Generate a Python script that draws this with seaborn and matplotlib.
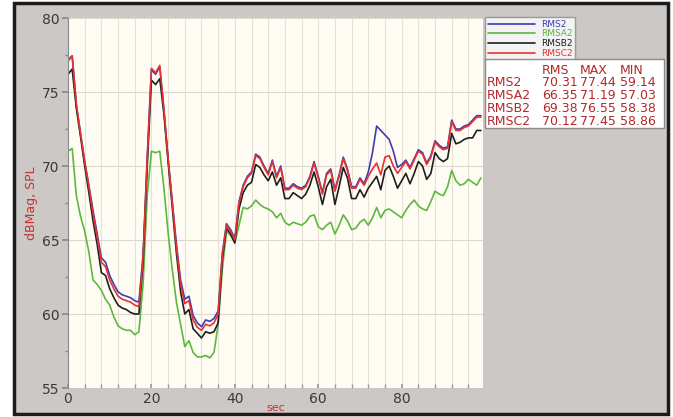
import numpy as np
import pandas as pd
import matplotlib
matplotlib.use("Agg")
import matplotlib.pyplot as plt
from matplotlib.patches import Rectangle
from matplotlib.ticker import MultipleLocator
import seaborn as sns

# time axis (sec) and the four SPL traces
seconds = list(range(100))

rmsc2 = [77.2, 77.45, 74.2, 72.2, 70.3, 68.6, 66.8, 65.2, 63.5, 63.2,
         62.3, 61.7, 61.2, 61.0, 60.9, 60.8, 60.6, 60.5, 63.8, 70.5,
         76.6, 76.3, 76.8, 73.8, 70.5, 67.5, 64.5, 62.0, 60.7, 60.9,
         59.6, 59.1, 58.9, 59.3, 59.2, 59.4, 60.0, 64.0, 66.0, 65.6,
         65.0, 67.5, 68.6, 69.2, 69.5, 70.7, 70.5, 69.9, 69.4, 70.3,
         69.2, 69.9, 68.4, 68.4, 68.7, 68.5, 68.4, 68.6, 69.2, 70.2,
         69.2, 68.1, 69.4, 69.7, 68.3, 69.3, 70.5, 69.7, 68.5, 68.5,
         69.1, 68.7, 69.3, 69.8, 70.2, 69.4, 70.6, 70.7, 70.0, 69.5,
         69.9, 70.3, 69.8, 70.4, 71.0, 70.8, 70.1, 70.6, 71.6, 71.3,
         71.1, 71.2, 73.0, 72.4, 72.4, 72.6, 72.7, 73.0, 73.3, 73.3]

rmsb2 = [76.2, 76.55, 73.9, 72.0, 70.0, 68.2, 66.3, 64.7, 62.8, 62.6,
         61.7, 61.1, 60.6, 60.4, 60.3, 60.1, 60.0, 60.0, 63.5, 70.0,
         75.8, 75.5, 75.9, 73.5, 70.3, 67.2, 64.1, 61.5, 60.0, 60.3,
         59.0, 58.7, 58.38, 58.8, 58.7, 58.8, 59.4, 63.7, 65.8, 65.4,
         64.8, 67.1, 68.2, 68.7, 68.9, 70.1, 69.9, 69.4, 69.0, 69.6,
         68.7, 69.2, 67.8, 67.8, 68.2, 68.0, 67.8, 68.1, 68.7, 69.6,
         68.6, 67.4, 68.6, 69.1, 67.4, 68.6, 69.9, 69.2, 67.8, 67.8,
         68.4, 67.9, 68.5, 68.9, 69.3, 68.4, 69.7, 70.0, 69.3, 68.5,
         69.0, 69.5, 68.8, 69.5, 70.3, 70.0, 69.1, 69.5, 70.9, 70.5,
         70.3, 70.5, 72.2, 71.5, 71.6, 71.8, 71.9, 71.9, 72.4, 72.4]

rms2 = [77.1, 77.44, 74.1, 72.2, 70.3, 68.7, 67.0, 65.4, 63.8, 63.5,
        62.6, 62.0, 61.5, 61.3, 61.2, 61.1, 60.9, 60.8, 64.0, 70.6,
        76.5, 76.2, 76.7, 73.8, 70.5, 67.6, 64.7, 62.3, 61.0, 61.2,
        59.9, 59.4, 59.14, 59.6, 59.5, 59.7, 60.2, 64.1, 66.1, 65.7,
        65.1, 67.6, 68.7, 69.3, 69.6, 70.8, 70.6, 70.0, 69.5, 70.4,
        69.3, 70.0, 68.5, 68.5, 68.8, 68.6, 68.5, 68.7, 69.3, 70.3,
        69.3, 68.2, 69.5, 69.8, 68.4, 69.4, 70.6, 69.8, 68.6, 68.6,
        69.2, 68.8, 69.6, 70.9, 72.7, 72.4, 72.1, 71.8, 71.0, 69.9,
        70.1, 70.4, 69.9, 70.5, 71.1, 70.9, 70.2, 70.7, 71.7, 71.4,
        71.2, 71.3, 73.1, 72.5, 72.5, 72.7, 72.8, 73.1, 73.4, 73.4]

rmsa2 = [71.0, 71.19, 68.0, 66.6, 65.6, 64.2, 62.3, 62.0, 61.6, 61.0,
         60.6, 59.8, 59.2, 59.0, 58.9, 58.9, 58.6, 58.8, 62.0, 68.0,
         71.0, 70.9, 71.0, 68.5, 65.5, 63.0, 60.8, 59.3, 57.8, 58.2,
         57.4, 57.1, 57.1, 57.2, 57.03, 57.4, 59.3, 63.0, 65.6, 65.3,
         64.8, 66.0, 67.2, 67.1, 67.3, 67.7, 67.4, 67.2, 67.1, 66.9,
         66.5, 66.8, 66.2, 66.0, 66.2, 66.1, 66.0, 66.2, 66.6, 66.7,
         65.9, 65.7, 66.0, 66.2, 65.4, 66.0, 66.7, 66.3, 65.7, 65.8,
         66.2, 66.4, 66.0, 66.5, 67.2, 66.5, 67.0, 67.1, 66.9, 66.7,
         66.5, 67.0, 67.4, 67.7, 67.3, 67.1, 67.0, 67.6, 68.3, 68.1,
         68.0, 68.6, 69.7, 69.0, 68.7, 68.8, 69.1, 68.9, 68.7, 69.2]

series_names = ["RMS2", "RMSA2", "RMSB2", "RMSC2"]
stats_rms = ["70.31", "66.35", "69.38", "70.12"]
stats_max = ["77.44", "71.19", "76.55", "77.45"]
stats_min = ["59.14", "57.03", "58.38", "58.86"]

colors = {"RMS2": "#3c3cb4", "RMSA2": "#5cb83e", "RMSB2": "#1e1e1e", "RMSC2": "#e63232"}
stat_color = "#b42828"

df = pd.DataFrame({
    "sec": seconds * 4,
    "value": rms2 + rmsa2 + rmsb2 + rmsc2,
    "series": np.repeat(series_names, len(seconds)),
})

sns.set_theme(style="white")
plt.rcParams["font.family"] = ["DejaVu Sans"]

fig = plt.figure(figsize=(6.73, 4.17), dpi=100, facecolor="white")

# grey panel with a dark frame, as in the screenshot
fig.patches.append(Rectangle((14 / 673, 3 / 417), 654 / 673, 411 / 417,
                             transform=fig.transFigure, facecolor="#cbc8c5",
                             edgecolor="#1c1c1c", linewidth=2.5, zorder=-10))

ax = fig.add_axes([68 / 673, 1 - 388 / 417, 415 / 673, 370 / 417])
ax.set_facecolor("#fffdf3")

sns.lineplot(data=df, x="sec", y="value", hue="series", hue_order=series_names,
             palette=colors, linewidth=1.2, ax=ax, legend=True)

ax.set_xlim(0, 99.5)
ax.set_ylim(55, 80)
ax.xaxis.set_major_locator(MultipleLocator(20))
ax.xaxis.set_minor_locator(MultipleLocator(4))
ax.yaxis.set_major_locator(MultipleLocator(5))
ax.yaxis.set_minor_locator(MultipleLocator(2.5))
ax.set_xticks([0, 20, 40, 60, 80])

ax.grid(which="minor", axis="x", color="#e6e1d3", linewidth=0.8)
ax.grid(which="major", axis="x", color="#e6e1d3", linewidth=0.8)
ax.grid(which="major", axis="y", color="#dcd8cc", linewidth=0.8)
ax.set_axisbelow(True)

for side in ["top", "right", "bottom"]:
    ax.spines[side].set_visible(False)
ax.spines["left"].set_color("#8a8a8a")
ax.spines["left"].set_linewidth(0.8)

ax.tick_params(axis="y", which="major", length=4, color="#8a8a8a",
               labelsize=10, labelcolor="#3a3a3a", pad=2, left=True)
ax.tick_params(axis="y", which="minor", length=2, color="#8a8a8a", left=True)
ax.tick_params(axis="x", which="both", length=3, direction="in", color="#9a9a9a",
               labelsize=10, labelcolor="#3a3a3a", pad=3, bottom=True)

ax.set_xlabel("sec", color="#c83232", fontsize=8, labelpad=-2)
ax.set_ylabel("dBMag, SPL", color="#c83232", fontsize=9, labelpad=3)

# legend box to the right of the plot
leg = ax.legend(loc="upper left", bbox_to_anchor=(485 / 673, 1 - 17 / 417),
                bbox_transform=fig.transFigure, fontsize=6.5, frameon=True,
                fancybox=False, handlelength=5.2, handletextpad=0.7,
                labelspacing=0.08, borderpad=0.3, borderaxespad=0,
                labelcolor="linecolor", title=None)
leg.get_frame().set_edgecolor("#8a8a8a")
leg.get_frame().set_linewidth(1.0)
for line in leg.get_lines():
    line.set_linewidth(1.2)

# statistics box
fig.patches.append(Rectangle((485 / 673, 1 - 128 / 417), 179 / 673, 69 / 417,
                             transform=fig.transFigure, facecolor="white",
                             edgecolor="#8a8a8a", linewidth=1.0, zorder=5))
col_x = [487, 542, 580, 620]
header_y = 70
fig.text(col_x[1] / 673, 1 - header_y / 417, "RMS", color=stat_color,
         fontsize=9, va="center", zorder=6)
fig.text(col_x[2] / 673, 1 - header_y / 417, "MAX", color=stat_color,
         fontsize=9, va="center", zorder=6)
fig.text(col_x[3] / 673, 1 - header_y / 417, "MIN", color=stat_color,
         fontsize=9, va="center", zorder=6)
for i, name in enumerate(series_names):
    yy = 1 - (83 + i * 12.7) / 417
    for cx, txt in zip(col_x, [name, stats_rms[i], stats_max[i], stats_min[i]]):
        fig.text(cx / 673, yy, txt, color=stat_color, fontsize=9, va="center", zorder=6)

fig.savefig("out.png", dpi=100, facecolor=fig.get_facecolor())
